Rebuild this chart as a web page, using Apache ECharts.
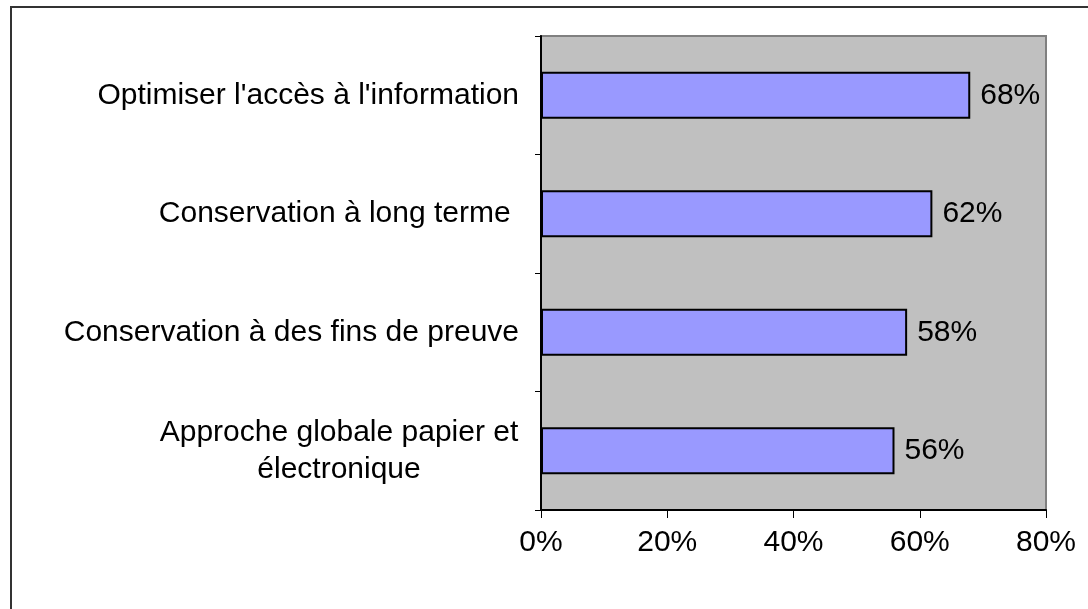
<!DOCTYPE html>
<html>
<head>
<meta charset="utf-8">
<script src="https://cdn.jsdelivr.net/npm/echarts@6/dist/echarts.min.js"></script>
<style>
html, body { margin: 0; padding: 0; background: #fff; }
#chartContainer { width: 1088px; height: 609px; }
</style>
</head>
<body>
<div id="chartContainer"></div>
<script>
var objectifChart = echarts.init(document.getElementById("chartContainer"));

var objectifName = ["Optimiser l'accès à l'information", 'Conservation à long terme ', 'Conservation à des fins de preuve', 'Approche globale papier et\nélectronique'];
var objectifData = [68, 62, 58, 56];
var axisTicks = [0, 20, 40, 60, 80];

var fontName = 'Liberation Sans, Arial, sans-serif';

objectifChart.setOption({
    animation: false,
    backgroundColor: '#fff',
    graphic: [{
        type: 'rect',
        shape: { x: 11, y: 7, width: 1200, height: 800 },
        style: { fill: 'none', stroke: '#333', lineWidth: 2 },
        z: -1
    }],
    grid: {
        left: 541, right: 42, top: 36, bottom: 99,
        show: true,
        backgroundColor: '#c0c0c0',
        borderColor: '#808080',
        borderWidth: 2
    },
    xAxis: {
        type: 'value',
        min: axisTicks[0],
        max: axisTicks[axisTicks.length - 1],
        interval: axisTicks[1] - axisTicks[0],
        axisLine: { show: true, onZero: false, lineStyle: { color: '#000', width: 2 } },
        axisTick: { show: true, length: 8, lineStyle: { color: '#000', width: 1 } },
        splitLine: { show: false },
        axisLabel: {
            formatter: '{value}%',
            color: '#000', fontSize: 30, fontFamily: fontName, margin: 18
        }
    },
    yAxis: {
        type: 'category',
        inverse: true,
        data: objectifName,
        axisLine: { show: true, lineStyle: { color: '#000', width: 2 } },
        axisTick: { show: true, length: 6, lineStyle: { color: '#000', width: 1 } },
        axisLabel: {
            color: '#000', fontSize: 30, fontFamily: fontName, margin: 22,
            lineHeight: 37,
            formatter: function (v) {
                if (v.indexOf('\n') >= 0) {
                    return v.split('\n').map(function (s) { return '{c|' + s + '}'; }).join('\n');
                }
                return v;
            },
            rich: {
                c: { width: 360, align: 'center', fontSize: 30, fontFamily: fontName, color: '#000', lineHeight: 37 }
            }
        }
    },
    series: [{
        type: 'bar',
        data: objectifData,
        barWidth: 47,
        itemStyle: { color: '#9999ff', borderColor: '#000', borderWidth: 2 },
        label: {
            show: true,
            position: 'right',
            distance: 10,
            formatter: '{c}%',
            color: '#000', fontSize: 30, fontFamily: fontName
        }
    }]
});
</script>
</body>
</html>
